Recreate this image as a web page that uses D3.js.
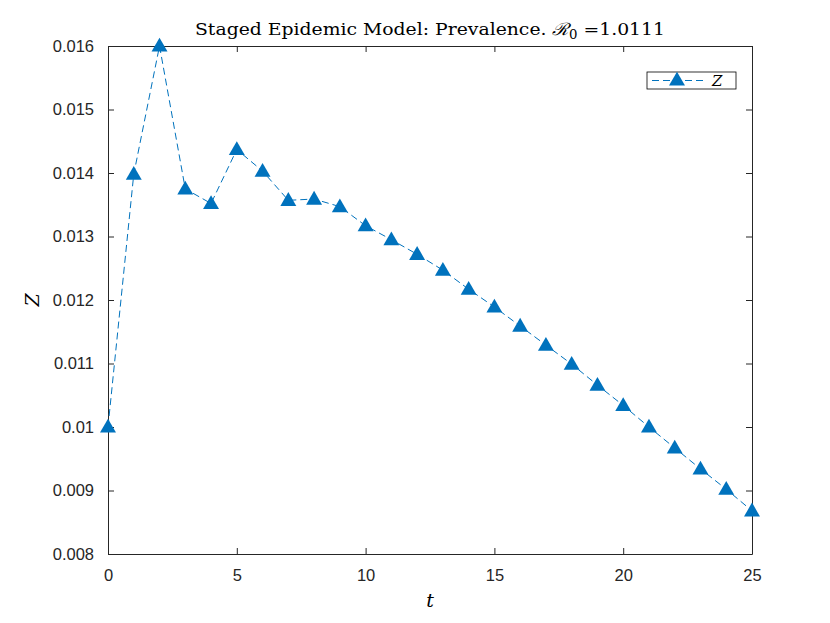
<!DOCTYPE html>
<html>
<head>
<meta charset="utf-8">
<script src="https://cdn.jsdelivr.net/npm/d3@7"></script>
<style>
  body { margin: 0; background: #fff; }
  svg { display: block; }
</style>
</head>
<body>
<div id="chart"></div>
<script>
// data
var tValues = d3.range(0, 26)
var zValues = [0.01000, 0.01398, 0.01600, 0.01375, 0.01352, 0.01437, 0.01403, 0.01357,
  0.01359, 0.01347, 0.01317, 0.01295, 0.01272, 0.01247, 0.01217, 0.01189,
  0.01159, 0.01129, 0.01099, 0.01066, 0.01034, 0.01000, 0.00967, 0.00934,
  0.00902, 0.00868]
var xTicks = [0, 5, 10, 15, 20, 25]
var yTicks = [0.008, 0.009, 0.01, 0.011, 0.012, 0.013, 0.014, 0.015, 0.016]

var width = 830, height = 623
var margin = { top: 46, right: 78, bottom: 69, left: 108 }
var innerW = width - margin.left - margin.right
var innerH = height - margin.top - margin.bottom
var lineColor = '#0072bd'
var axisColor = '#262626'
var serif = 'DejaVu Serif, Liberation Serif, serif'

var svg = d3.select('#chart')
  .append('svg')
  .attr('width', width)
  .attr('height', height)

var g = svg.append('g')
  .attr('transform', 'translate(' + margin.left + ',' + margin.top + ')')

var x = d3.scaleLinear().domain([0, 25]).range([0, innerW])
var y = d3.scaleLinear().domain([0.008, 0.016]).range([innerH, 0])

// axes: ticks pointing inward, box on all sides
function styleAxis(sel) {
  sel.selectAll('path').attr('stroke', axisColor)
  sel.selectAll('line').attr('stroke', axisColor)
  sel.selectAll('text')
    .attr('fill', axisColor)
    .style('font-family', 'Liberation Sans, Arial, sans-serif')
    .style('font-size', '16.5px')
}

g.append('g')
  .attr('transform', 'translate(0,' + innerH + ')')
  .call(d3.axisBottom(x).tickValues(xTicks).tickSizeInner(-6).tickSizeOuter(0).tickPadding(15))
  .call(styleAxis)

g.append('g')
  .call(d3.axisTop(x).tickValues(xTicks).tickSizeInner(-6).tickSizeOuter(0).tickFormat(''))
  .call(styleAxis)

g.append('g')
  .call(d3.axisLeft(y).tickValues(yTicks).tickSizeInner(-6).tickSizeOuter(0).tickPadding(14)
    .tickFormat(function(d) { return String(+d.toFixed(3)) }))
  .call(styleAxis)

g.append('g')
  .attr('transform', 'translate(' + innerW + ',0)')
  .call(d3.axisRight(y).tickValues(yTicks).tickSizeInner(-6).tickSizeOuter(0).tickFormat(''))
  .call(styleAxis)

// data line
var points = tValues.map(function(t, i) { return [t, zValues[i]] })

g.append('path')
  .datum(points)
  .attr('fill', 'none')
  .attr('stroke', lineColor)
  .attr('stroke-width', 1)
  .attr('stroke-dasharray', '7,4')
  .attr('d', d3.line().x(d => x(d[0])).y(d => y(d[1])))

var tri = d3.symbol().type(d3.symbolTriangle).size(110)

g.selectAll('.marker')
  .data(points)
  .enter()
  .append('path')
  .attr('class', 'marker')
  .attr('fill', lineColor)
  .attr('d', tri)
  .attr('transform', d => 'translate(' + x(d[0]) + ',' + (y(d[1]) + 1) + ')')

// title
var title = svg.append('text')
  .attr('x', margin.left + innerW / 2)
  .attr('y', 35)
  .attr('text-anchor', 'middle')
  .attr('fill', '#000')
  .attr('textLength', 470)
  .attr('lengthAdjust', 'spacingAndGlyphs')
  .style('font-family', serif)
  .style('font-size', '17px')
title.append('tspan').text('Staged Epidemic Model: Prevalence. ')
title.append('tspan').style('font-style', 'italic').text('ℛ')
title.append('tspan').attr('dy', 4).style('font-size', '12px').text('0')
title.append('tspan').attr('dy', -4).text(' =1.0111')

// axis labels
svg.append('text')
  .attr('x', margin.left + innerW / 2)
  .attr('y', 607)
  .attr('text-anchor', 'middle')
  .style('font-family', serif)
  .style('font-style', 'italic')
  .style('font-size', '19px')
  .text('t')

svg.append('text')
  .attr('transform', 'translate(39,' + (margin.top + innerH / 2) + ') rotate(-90)')
  .attr('text-anchor', 'middle')
  .style('font-family', serif)
  .style('font-style', 'italic')
  .style('font-size', '19px')
  .text('Z')

// legend
var legend = svg.append('g').attr('transform', 'translate(647,72)')
legend.append('rect')
  .attr('width', 89).attr('height', 17)
  .attr('fill', '#fff')
  .attr('stroke', '#000')
  .attr('stroke-width', 0.8)
legend.append('line')
  .attr('x1', 5).attr('x2', 57)
  .attr('y1', 8.5).attr('y2', 8.5)
  .attr('stroke', lineColor)
  .attr('stroke-dasharray', '7,4')
legend.append('path')
  .attr('fill', lineColor)
  .attr('d', tri)
  .attr('transform', 'translate(30,9)')
legend.append('text')
  .attr('x', 65).attr('y', 14)
  .style('font-family', serif)
  .style('font-style', 'italic')
  .style('font-size', '15px')
  .text('Z')
</script>
</body>
</html>
